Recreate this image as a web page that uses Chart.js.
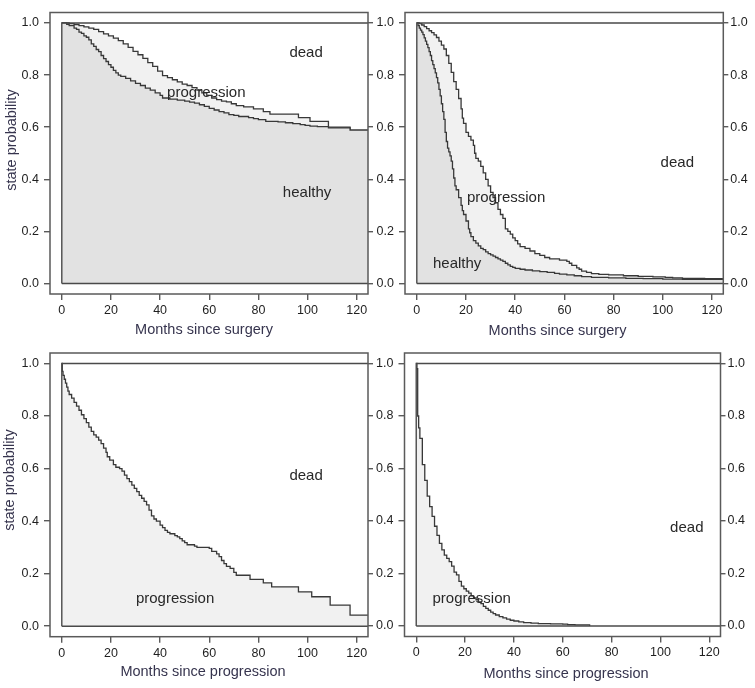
<!DOCTYPE html>
<html>
<head>
<meta charset="utf-8">
<title>State probabilities after surgery and after progression</title>
<script src="https://cdn.jsdelivr.net/npm/chart.js@4.4.1/dist/chart.umd.min.js"></script>
<style>
  html, body { margin: 0; padding: 0; background: #fff; }
  #wrap { position: relative; width: 755px; height: 688px; overflow: hidden; }
  #wrap canvas { position: absolute; background: #fff; }
</style>
</head>
<body>
<div id="wrap"></div>
<script>
// Axis ticks and texts
const monthTicks = [0, 20, 40, 60, 80, 100, 120];
const probTicks = [0, 0.2, 0.4, 0.6, 0.8, 1.0];
const yTitleText = 'state probability';
const xTitleSurgery = 'Months since surgery';
const xTitleProgression = 'Months since progression';

// Top left: after surgery, healthy curve and healthy + progression curve
const p1HealthyMonths = [0, 2, 3, 5, 6, 7, 8, 9, 10, 11, 12, 13, 14, 15, 16, 17, 18, 19, 20, 21,
  22, 23, 24, 26, 28, 30, 32, 34, 36, 38, 40, 41, 44, 47, 50, 52, 54, 56, 58, 60,
  62, 64, 66, 68, 70, 72, 76, 78, 80, 83, 88, 91, 94, 97, 99, 101, 104, 108.5, 117.3, 125];
const p1HealthyProb = [1.0, 0.995, 0.99, 0.98, 0.975, 0.965, 0.96, 0.95, 0.945, 0.935, 0.92, 0.91, 0.898, 0.89, 0.875, 0.863, 0.852, 0.84, 0.83, 0.818,
  0.808, 0.80, 0.795, 0.787, 0.778, 0.768, 0.76, 0.75, 0.742, 0.732, 0.722, 0.712, 0.708, 0.704, 0.70, 0.696, 0.692, 0.686, 0.68, 0.672,
  0.666, 0.66, 0.655, 0.648, 0.645, 0.641, 0.637, 0.633, 0.629, 0.622, 0.62, 0.617, 0.614, 0.61, 0.607, 0.604, 0.602, 0.597, 0.589, 0.589];
const p1UpperMonths = [0, 3, 5, 7, 9, 11, 13, 15, 17, 19, 21, 23, 25, 27, 29, 31, 33, 35, 37, 39,
  41, 43, 45, 47, 49, 51, 53, 55, 57, 59, 61, 63, 65, 67, 69, 71, 74, 78, 82, 84.7,
  96.3, 101, 108.5, 117.3, 125];
const p1UpperProb = [1.0, 0.997, 0.994, 0.99, 0.985, 0.98, 0.975, 0.967, 0.958, 0.95, 0.942, 0.932, 0.92, 0.906, 0.891, 0.878, 0.864, 0.848, 0.833, 0.815,
  0.798, 0.79, 0.782, 0.774, 0.765, 0.76, 0.752, 0.742, 0.732, 0.722, 0.712, 0.706, 0.70, 0.697, 0.69, 0.683, 0.678, 0.67, 0.66, 0.65,
  0.637, 0.622, 0.60, 0.589, 0.589];

// Top right
const p2HealthyMonths = [0, 0.5, 1, 1.5, 2, 2.5, 3, 3.5, 4, 4.5, 5, 5.5, 6, 6.5, 7, 7.5, 8, 8.5, 9, 9.5,
  10, 10.5, 11, 11.5, 12, 12.5, 13, 13.5, 14, 14.5, 15, 15.5, 16, 17, 18, 18.5, 19, 20, 21, 21.5,
  22, 23, 24, 25, 26, 27, 28, 29, 30, 31, 32, 33, 34, 35, 36, 37, 38, 39, 40, 42,
  44, 47, 50, 53, 56, 58, 61, 64, 67, 71, 78, 85, 92, 100, 108, 125];
const p2HealthyProb = [1.0, 0.99, 0.98, 0.972, 0.965, 0.955, 0.943, 0.93, 0.918, 0.905, 0.89, 0.875, 0.855, 0.84, 0.825, 0.808, 0.79, 0.77, 0.745, 0.72,
  0.69, 0.66, 0.63, 0.58, 0.545, 0.52, 0.505, 0.49, 0.47, 0.44, 0.405, 0.375, 0.36, 0.33, 0.3, 0.28, 0.265, 0.24, 0.21, 0.195,
  0.18, 0.165, 0.155, 0.145, 0.135, 0.13, 0.122, 0.115, 0.11, 0.105, 0.1, 0.095, 0.09, 0.085, 0.078, 0.072, 0.066, 0.062, 0.058, 0.055,
  0.052, 0.049, 0.046, 0.043, 0.039, 0.036, 0.033, 0.03, 0.027, 0.024, 0.022, 0.02, 0.019, 0.017, 0.016, 0.016];
const p2UpperMonths = [0, 1, 2, 3, 4, 5, 6, 7, 8, 9, 10, 11, 12, 13, 14, 15, 16, 17, 18, 18.5,
  19, 20, 21, 22, 23, 23.5, 24, 25, 26, 27, 28, 29, 30, 31, 32, 33, 34, 35, 36, 37,
  38, 39, 40, 41, 42, 44, 46, 48, 50, 52, 54, 58, 61, 62, 63, 65, 66, 67, 69, 71,
  74, 78, 84, 90, 96, 101, 104, 108, 117, 125];
const p2UpperProb = [1.0, 0.997, 0.992, 0.986, 0.978, 0.97, 0.963, 0.954, 0.944, 0.93, 0.915, 0.9, 0.875, 0.845, 0.81, 0.775, 0.745, 0.71, 0.67, 0.635,
  0.615, 0.58, 0.565, 0.55, 0.53, 0.5, 0.48, 0.47, 0.45, 0.425, 0.4, 0.375, 0.35, 0.33, 0.31, 0.285, 0.265, 0.25, 0.21, 0.2,
  0.19, 0.175, 0.165, 0.152, 0.142, 0.135, 0.125, 0.115, 0.108, 0.1, 0.095, 0.09, 0.085, 0.078, 0.07, 0.06, 0.055, 0.048, 0.043, 0.038,
  0.035, 0.033, 0.03, 0.028, 0.026, 0.024, 0.022, 0.02, 0.019, 0.019];

// Bottom left: after progression
const p3Months = [0, 0.2, 0.5, 1, 1.5, 2, 2.5, 3, 4, 5, 6, 7, 8, 9, 10, 11, 12, 13, 14, 15,
  16, 17, 18, 18.5, 19.5, 21, 22, 23.5, 24.5, 25.5, 26.5, 27.5, 28.5, 29.5, 30.5, 31.5, 32.5, 33.5, 34.5, 35.5,
  36.5, 37.5, 38.5, 40, 41, 42, 43, 44, 46, 47, 48, 49, 50, 51, 54, 55, 60, 61, 63, 64,
  65, 66, 67, 68.5, 70, 71, 76.6, 82, 85.4, 96.3, 101.7, 109.2, 117.3, 125];
const p3Prob = [1.0, 0.97, 0.955, 0.94, 0.925, 0.91, 0.895, 0.882, 0.868, 0.852, 0.838, 0.822, 0.805, 0.79, 0.775, 0.758, 0.742, 0.728, 0.72, 0.708,
  0.695, 0.678, 0.662, 0.645, 0.632, 0.615, 0.605, 0.6, 0.59, 0.575, 0.562, 0.55, 0.537, 0.525, 0.512, 0.498, 0.487, 0.475, 0.462, 0.442,
  0.42, 0.408, 0.4, 0.385, 0.375, 0.365, 0.357, 0.352, 0.345, 0.34, 0.333, 0.325, 0.318, 0.31, 0.305, 0.3, 0.296, 0.285, 0.275, 0.265,
  0.25, 0.238, 0.228, 0.22, 0.205, 0.194, 0.178, 0.165, 0.15, 0.131, 0.112, 0.08, 0.042, 0.042];

// Bottom right
const p4Months = [0, 0.3, 0.6, 1, 1.5, 2.5, 3.5, 4.5, 5.5, 6.5, 7.5, 8.5, 9.5, 10.5, 11.5, 12.5, 13.5, 14.5, 15.5, 16.5,
  17.5, 18.5, 19.5, 20.5, 21.5, 22.5, 23.5, 24.5, 25.5, 26.5, 27.5, 28.5, 29.5, 30.5, 31.5, 32.5, 34, 35.5, 37, 38.5,
  40, 42, 44, 47, 50, 55, 60, 62, 65, 71];
const p4Prob = [1.0, 0.98, 0.8, 0.755, 0.715, 0.615, 0.555, 0.495, 0.455, 0.418, 0.38, 0.345, 0.315, 0.29, 0.27, 0.258, 0.245, 0.228, 0.205, 0.195,
  0.17, 0.152, 0.142, 0.133, 0.125, 0.115, 0.107, 0.1, 0.092, 0.085, 0.075, 0.067, 0.06, 0.053, 0.047, 0.042, 0.036, 0.031, 0.026, 0.022,
  0.019, 0.016, 0.013, 0.011, 0.009, 0.008, 0.007, 0.005, 0.004, 0];

// Styles
const fontFamily = '"Liberation Sans", Arial, Helvetica, sans-serif';
const tickColor = '#1f1f1f';
const titleColor = '#36344e';
const boxColor = '#5a5a5a';
const curveColor = '#383838';
const healthyFill = '#e2e2e2';
const progressionFill = '#f1f1f1';
const xMin = -4.8, xMax = 124.6, yMin = -0.04, yMax = 1.04;

const panels = [
  {
    left: 0, top: 0, w: 375, h: 340,
    area: {left: 50, right: 368, top: 10, bottom: 294},
    rightLabels: false,
    xTitle: {text: xTitleSurgery, x: 204, y: 330},
    yTitle: {text: yTitleText, x: 12, y: 140},
    curves: [
      {months: p1HealthyMonths, probs: p1HealthyProb, fill: healthyFill},
      {months: p1UpperMonths, probs: p1UpperProb, fill: progressionFill}
    ],
    stateLabels: [
      {text: 'dead', m: 99.4, p: 0.885},
      {text: 'progression', m: 58.8, p: 0.733},
      {text: 'healthy', m: 99.8, p: 0.349}
    ]
  },
  {
    left: 375, top: 0, w: 380, h: 340,
    area: {left: 30, right: 348.3, top: 10, bottom: 294},
    rightLabels: true,
    xTitle: {text: xTitleSurgery, x: 182.5, y: 331},
    yTitle: null,
    curves: [
      {months: p2HealthyMonths, probs: p2HealthyProb, fill: healthyFill},
      {months: p2UpperMonths, probs: p2UpperProb, fill: progressionFill}
    ],
    stateLabels: [
      {text: 'dead', m: 105.9, p: 0.463},
      {text: 'progression', m: 36.3, p: 0.33},
      {text: 'healthy', m: 16.4, p: 0.075}
    ]
  },
  {
    left: 0, top: 340, w: 375, h: 348,
    area: {left: 50, right: 368, top: 13, bottom: 296.7},
    rightLabels: false,
    xTitle: {text: xTitleProgression, x: 203, y: 331.5},
    yTitle: {text: yTitleText, x: 10, y: 140},
    curves: [
      {months: p3Months, probs: p3Prob, fill: progressionFill}
    ],
    stateLabels: [
      {text: 'dead', m: 99.4, p: 0.571},
      {text: 'progression', m: 46.1, p: 0.103}
    ]
  },
  {
    left: 375, top: 340, w: 380, h: 348,
    area: {left: 29.5, right: 345.5, top: 13, bottom: 296.5},
    rightLabels: true,
    xTitle: {text: xTitleProgression, x: 191, y: 333.5},
    yTitle: null,
    curves: [
      {months: p4Months, probs: p4Prob, fill: progressionFill}
    ],
    stateLabels: [
      {text: 'dead', m: 110.8, p: 0.372},
      {text: 'progression', m: 22.7, p: 0.105}
    ]
  }
];

// Box around the plot, state names and axis titles
const panelDecor = {
  id: 'panelDecor',
  afterDraw(chart, args, opts) {
    const {ctx, chartArea: a, scales} = chart;
    ctx.save();
    ctx.strokeStyle = boxColor;
    ctx.lineWidth = 1.5;
    ctx.strokeRect(a.left, a.top, a.right - a.left, a.bottom - a.top);

    ctx.fillStyle = '#282828';
    ctx.font = '15px ' + fontFamily;
    ctx.textAlign = 'center';
    ctx.textBaseline = 'middle';
    opts.stateLabels.forEach(l => {
      ctx.fillText(l.text, scales.x.getPixelForValue(l.m), scales.y.getPixelForValue(l.p));
    });

    ctx.fillStyle = titleColor;
    ctx.font = '14.5px ' + fontFamily;
    if (opts.xTitle) ctx.fillText(opts.xTitle.text, opts.xTitle.x, opts.xTitle.y);
    if (opts.yTitle) {
      ctx.translate(opts.yTitle.x, opts.yTitle.y);
      ctx.rotate(-Math.PI / 2);
      ctx.fillText(opts.yTitle.text, 0, 0);
    }
    ctx.restore();
  }
};

function tickGrid(len) {
  return {display: true, drawOnChartArea: false, drawTicks: true, tickLength: len, color: boxColor, lineWidth: 1.4};
}

function makeScales(p) {
  const tickFont = {family: fontFamily, size: 12.5};
  return {
    x: {
      type: 'linear', position: 'bottom', min: xMin, max: xMax,
      afterBuildTicks: s => { s.ticks = monthTicks.map(v => ({value: v})); },
      afterFit: s => { s.height = p.h - p.area.bottom; },
      ticks: {font: tickFont, color: tickColor, padding: 3, maxRotation: 0, autoSkip: false, callback: v => String(v)},
      grid: tickGrid(6),
      border: {display: false}
    },
    y: {
      type: 'linear', position: 'left', min: yMin, max: yMax,
      afterBuildTicks: s => { s.ticks = probTicks.map(v => ({value: v})); },
      afterFit: s => { s.width = p.area.left; },
      ticks: {font: tickFont, color: tickColor, padding: 5, autoSkip: false, callback: v => v.toFixed(1)},
      grid: tickGrid(6),
      border: {display: false}
    },
    y2: {
      type: 'linear', position: 'right', min: yMin, max: yMax,
      afterBuildTicks: s => { s.ticks = probTicks.map(v => ({value: v})); },
      afterFit: s => { s.width = p.w - p.area.right; },
      ticks: {font: tickFont, color: tickColor, padding: 2, autoSkip: false,
        callback: v => p.rightLabels ? v.toFixed(1) : ''},
      grid: tickGrid(5),
      border: {display: false}
    }
  };
}

const wrap = document.getElementById('wrap');

panels.forEach(p => {
  const canvas = document.createElement('canvas');
  canvas.width = p.w;
  canvas.height = p.h;
  canvas.style.left = p.left + 'px';
  canvas.style.top = p.top + 'px';
  wrap.appendChild(canvas);

  const datasets = p.curves.map((c, i) => ({
    data: c.months.map((m, k) => ({x: m, y: c.probs[k]})),
    stepped: 'before',
    borderColor: curveColor,
    borderWidth: 1.3,
    backgroundColor: c.fill,
    fill: 'origin',
    pointRadius: 0,
    order: i + 1
  }));

  // lines at x = 0, y = 1 and y = 0 that close the stacked areas
  datasets.push({
    data: [{x: 0, y: 0}, {x: 0, y: 1}, {x: xMax + 1, y: 1}],
    borderColor: '#4a4a4a', borderWidth: 1.4, fill: false, pointRadius: 0, order: 0
  });
  datasets.push({
    data: [{x: 0, y: 0}, {x: xMax + 1, y: 0}],
    borderColor: '#4a4a4a', borderWidth: 1.4, fill: false, pointRadius: 0, order: 0
  });

  new Chart(canvas, {
    type: 'line',
    data: {datasets},
    options: {
      responsive: false,
      animation: false,
      devicePixelRatio: 1,
      layout: {padding: {top: p.area.top, left: 0, right: 0, bottom: 0}},
      elements: {line: {tension: 0}, point: {radius: 0}},
      plugins: {
        legend: {display: false},
        tooltip: {enabled: false},
        panelDecor: {stateLabels: p.stateLabels, xTitle: p.xTitle, yTitle: p.yTitle}
      },
      scales: makeScales(p)
    },
    plugins: [panelDecor]
  });
});
</script>
</body>
</html>
